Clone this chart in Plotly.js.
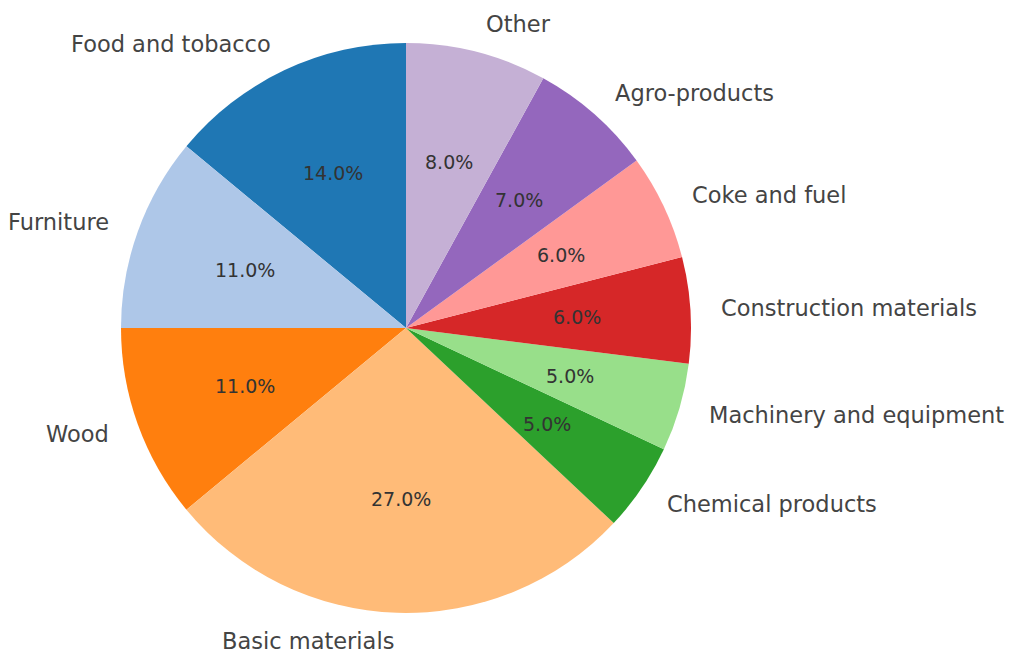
<!DOCTYPE html>
<html>
<head>
<meta charset="utf-8">
<script src="https://cdn.plot.ly/plotly-3.0.1.min.js"></script>
<style>html,body{margin:0;padding:0;background:#fff;}</style>
</head>
<body>
<div id="chart" style="width:1011px;height:655px;"></div>
<script>
const categories = ["Food and tobacco", "Furniture", "Wood", "Basic materials", "Chemical products",
  "Machinery and equipment", "Construction materials", "Coke and fuel", "Agro-products", "Other"];
const shares = [14, 11, 11, 27, 5, 5, 6, 6, 7, 8];
const colors = ["#1f77b4", "#aec7e8", "#ff7f0e", "#ffbb78", "#2ca02c",
  "#98df8a", "#d62728", "#ff9896", "#9467bd", "#c5b0d5"];

const total = shares.reduce((a, b) => a + b, 0);
const annotations = [];
let cum = 0;
shares.forEach((v, i) => {
  const mid = (90 + 360 * (cum + v / 2) / total) * Math.PI / 180;
  cum += v;
  const c = Math.cos(mid), s = Math.sin(mid);
  annotations.push({
    xref: "paper", yref: "paper",
    x: 0.5 + 0.5 * 1.1 * c, y: 0.5 + 0.5 * 1.1 * s,
    text: categories[i], showarrow: false,
    xanchor: c > 0 ? "left" : "right", yanchor: "middle",
    font: {family: "DejaVu Sans", size: 22.5, color: "#444"}
  });
  annotations.push({
    xref: "paper", yref: "paper",
    x: 0.5 + 0.5 * 0.6 * c, y: 0.5 + 0.5 * 0.6 * s,
    text: (100 * v / total).toFixed(1) + "%", showarrow: false,
    xanchor: "center", yanchor: "middle",
    font: {family: "DejaVu Sans", size: 19, color: "#333"}
  });
});

const trace = {
  type: "pie",
  labels: categories,
  values: shares,
  sort: false,
  direction: "counterclockwise",
  rotation: -360 * shares[0] / total,
  marker: {colors: colors, line: {width: 0}},
  textinfo: "none",
  hoverinfo: "label+percent",
  showlegend: false
};

const layout = {
  width: 1011, height: 655,
  margin: {l: 121, r: 320, t: 43, b: 42},
  paper_bgcolor: "#fff",
  showlegend: false,
  annotations: annotations
};

Plotly.newPlot("chart", [trace], layout, {displayModeBar: false, staticPlot: true});
</script>
</body>
</html>
